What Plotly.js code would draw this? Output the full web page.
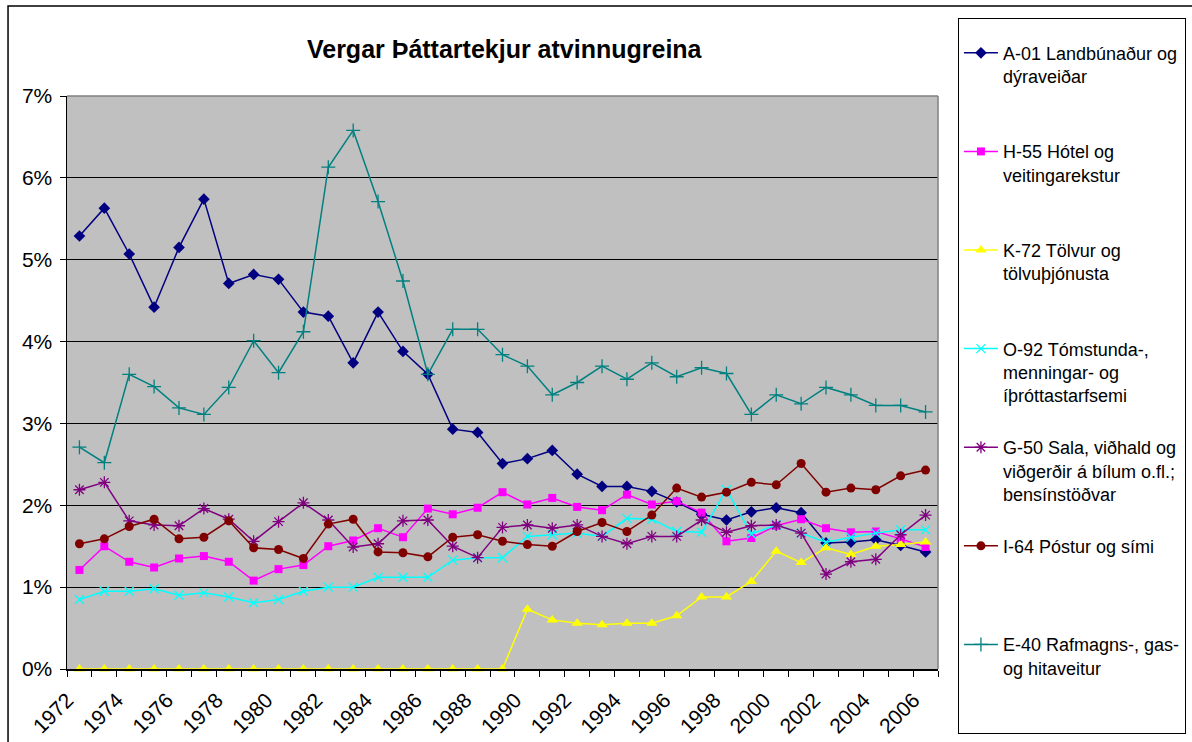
<!DOCTYPE html>
<html>
<head>
<meta charset="utf-8">
<script src="https://cdn.plot.ly/plotly-3.0.1.min.js"></script>
<style>
html,body{margin:0;padding:0;background:#fff;}
#chart{width:1192px;height:742px;}
</style>
</head>
<body>
<div id="chart"></div>
<script>
// ---- data (percent of total) ----
const years = [1972,1973,1974,1975,1976,1977,1978,1979,1980,1981,1982,1983,1984,1985,1986,1987,1988,1989,1990,1991,1992,1993,1994,1995,1996,1997,1998,1999,2000,2001,2002,2003,2004,2005,2006];
const labelYears = [1972,1974,1976,1978,1980,1982,1984,1986,1988,1990,1992,1994,1996,1998,2000,2002,2004,2006];

const seriesNames = [
  "A-01 Landbúnaður og<br>dýraveiðar",
  "H-55 Hótel og<br>veitingarekstur",
  "K-72 Tölvur og<br>tölvuþjónusta",
  "O-92 Tómstunda-,<br>menningar- og<br>íþróttastarfsemi",
  "G-50 Sala, viðhald og<br>viðgerðir á bílum o.fl.;<br>bensínstöðvar",
  "I-64 Póstur og sími",
  "E-40 Rafmagns-, gas-<br>og hitaveitur"
];

const a01 = [5.29,5.63,5.07,4.42,5.15,5.74,4.71,4.82,4.76,4.36,4.31,3.74,4.36,3.88,3.60,2.93,2.89,2.51,2.57,2.67,2.38,2.23,2.23,2.17,2.04,1.89,1.82,1.92,1.97,1.91,1.54,1.55,1.58,1.51,1.43];
const h55 = [1.21,1.50,1.31,1.24,1.35,1.38,1.31,1.08,1.22,1.27,1.50,1.57,1.72,1.61,1.96,1.89,1.97,2.16,2.01,2.09,1.98,1.94,2.13,2.01,2.05,1.91,1.56,1.60,1.75,1.83,1.72,1.67,1.68,1.59,1.49];
const k72 = [0,0,0,0,0,0,0,0,0,0,0,0,0,0,0,0,0,0,0.73,0.60,0.56,0.54,0.56,0.56,0.65,0.88,0.88,1.07,1.44,1.30,1.48,1.40,1.50,1.52,1.55];
const o92 = [0.85,0.95,0.95,0.98,0.90,0.93,0.88,0.81,0.85,0.95,1.00,1.00,1.12,1.12,1.12,1.33,1.36,1.36,1.62,1.64,1.66,1.62,1.84,1.83,1.68,1.67,2.19,1.65,1.76,1.66,1.55,1.61,1.66,1.70,1.70];
const g50 = [2.19,2.28,1.81,1.76,1.75,1.96,1.83,1.56,1.80,2.03,1.82,1.49,1.53,1.81,1.82,1.50,1.36,1.73,1.76,1.72,1.76,1.62,1.53,1.62,1.62,1.82,1.67,1.75,1.76,1.66,1.16,1.31,1.34,1.64,1.88];
const i64 = [1.53,1.59,1.74,1.83,1.59,1.61,1.81,1.48,1.46,1.35,1.77,1.83,1.43,1.42,1.37,1.61,1.64,1.56,1.52,1.50,1.68,1.79,1.68,1.88,2.21,2.10,2.16,2.28,2.25,2.51,2.16,2.21,2.19,2.36,2.43];
const e40 = [2.71,2.52,3.60,3.45,3.19,3.11,3.44,4.01,3.62,4.12,6.13,6.58,5.71,4.74,3.60,4.15,4.15,3.84,3.70,3.35,3.50,3.70,3.54,3.74,3.57,3.68,3.61,3.11,3.35,3.24,3.44,3.35,3.22,3.22,3.14];

const seriesValues = [a01,h55,k72,o92,g50,i64,e40];

// ---- styles ----
const styles = [
  {color:'#000080', symbol:'diamond', size:9, fill:true},
  {color:'#FF00FF', symbol:'square', size:8, fill:true},
  {color:'#FFFF00', symbol:'triangle-up', size:10, fill:true},
  {color:'#00FFFF', symbol:'x-thin-open', size:9, fill:false},
  {color:'#800080', symbol:'asterisk-open', size:10, fill:false},
  {color:'#800000', symbol:'circle', size:9, fill:true},
  {color:'#008080', symbol:'cross-thin-open', size:10, fill:false}
];

function padLines(t, n){
  const c = t.split('<br>').length;
  let s = t;
  for(let i=c;i<n;i++) s += '<br> ';
  return s;
}

const traces = seriesValues.map((vals,i)=>{
  const st = styles[i];
  return {
    type:'scatter', mode:'lines+markers',
    x: years, y: vals,
    name: padLines(seriesNames[i],4),
    legendgroup: 'g'+i,
    cliponaxis:false,
    line:{color:st.color, width:1.5},
    marker:{symbol:st.symbol, size:st.size, color:st.color,
            line:{color:st.color, width: st.fill?0:1.3}}
  };
});

const layout = {
  width:1192, height:742,
  margin:{l:67, r:254, t:96, b:73, pad:0, autoexpand:false},
  paper_bgcolor:'#ffffff',
  plot_bgcolor:'#C0C0C0',
  font:{family:'"Liberation Sans", Arial, sans-serif', color:'#000'},
  showlegend:true,
  title:{
    text:'Vergar Þáttartekjur atvinnugreina',
    font:{size:25, weight:'bold', family:'"Liberation Sans", Arial, sans-serif', color:'#000'},
    x:0.502, xref:'paper', xanchor:'center',
    y:0.933, yref:'container', yanchor:'middle'
  },
  xaxis:{
    range:[1971.5,2006.5],
    tickmode:'array', tickvals:labelYears, ticktext:labelYears.map(String),
    ticks:'', tickangle:-45,
    tickfont:{size:21},
    ticklabelshift:-12, ticklabelstandoff:9,
    showgrid:false, zeroline:false,
    showline:true, linecolor:'#000', linewidth:1.5,
    minor:{ticks:'outside', ticklen:6, tickcolor:'#000', tickwidth:1, tick0:1971.5, dtick:1, showgrid:false},
    fixedrange:true
  },
  yaxis:{
    range:[0,7], dtick:1, tick0:0, ticksuffix:'%',
    ticks:'outside', ticklen:6, tickcolor:'#000',
    tickfont:{size:21},
    ticklabelstandoff:3,
    showgrid:true, gridcolor:'#000', gridwidth:1,
    zeroline:false,
    showline:true, linecolor:'#000', linewidth:1.5,
    fixedrange:true
  },
  legend:{
    x:1.0229, xanchor:'left', xref:'paper',
    y:1.1361, yanchor:'top', yref:'paper',
    bgcolor:'#ffffff', bordercolor:'#000', borderwidth:1,
    font:{size:18, color:'#000'},
    valign:'top',
    itemwidth:34,
    tracegroupgap:2,
    maxheight:740,
    title:{text:' ', font:{size:12}}
  },
  shapes:[
    // plot-area top and right border (gray)
    {type:'line', xref:'paper', yref:'paper', x0:0, x1:1, y0:1, y1:1, line:{color:'#808080', width:1.5}, layer:'above'},
    {type:'line', xref:'paper', yref:'paper', x0:1, x1:1, y0:0, y1:1, line:{color:'#808080', width:1.5}, layer:'above'},
    // outer chart frame
    {type:'rect', xref:'paper', yref:'paper', x0:-0.0677, x1:1.6, y0:-0.3, y1:1.1571, line:{color:'#000', width:1.5}, layer:'below'}
  ]
};

Plotly.newPlot('chart', traces, layout, {displayModeBar:false, staticPlot:true});
</script>
</body>
</html>
